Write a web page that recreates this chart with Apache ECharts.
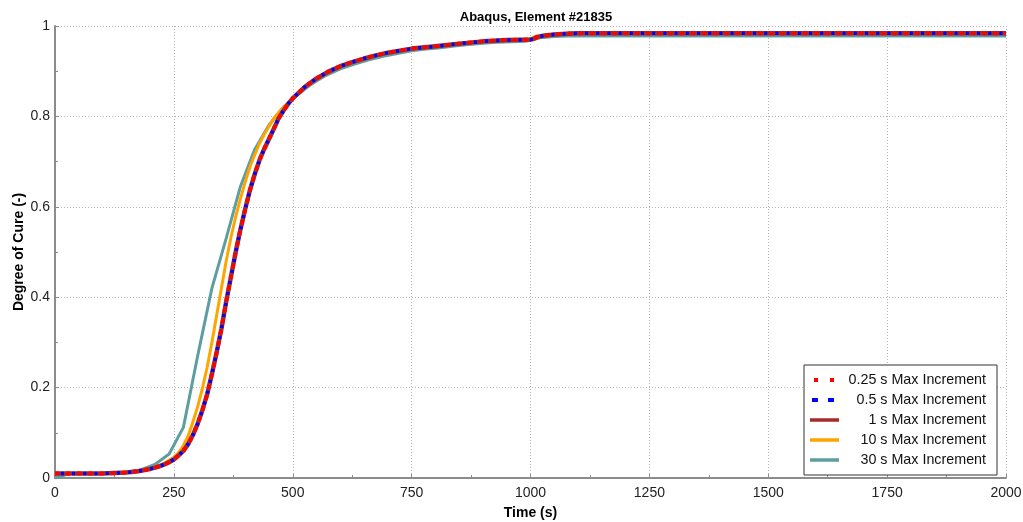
<!DOCTYPE html>
<html>
<head>
<meta charset="utf-8">
<script src="https://cdn.jsdelivr.net/npm/echarts@6/dist/echarts.min.js"></script>
<style>
  html, body { margin: 0; padding: 0; background: #fff; }
  #chart { width: 1023px; height: 522px; }
</style>
</head>
<body>
<div id="chart"></div>
<script>
// Degree of cure vs. time for an Abaqus element at different max time increments.
const seriesNames = [
  '0.25 s Max Increment',
  '0.5 s Max Increment',
  '1 s Max Increment',
  '10 s Max Increment',
  '30 s Max Increment'
];

// Fine-increment runs (0.25 s, 0.5 s, 1 s) overlap each other
const timeFine = [0, 50, 100, 150, 175, 200, 210, 220, 230, 240, 250, 260, 270, 280, 290,
  300, 310, 320, 330, 340, 350, 360, 370, 380, 390, 400, 410, 420, 430, 440, 450, 460, 470,
  480, 490, 500, 525, 550, 575, 600, 625, 650, 675, 700, 750, 800, 850, 900, 950, 1000,
  1005, 1015, 1030, 1050, 1075, 1100, 1250, 1500, 1750, 2000];
const cure025 = [0.010, 0.010, 0.010, 0.012, 0.015, 0.020, 0.023, 0.026, 0.030, 0.035, 0.041,
  0.050, 0.060, 0.075, 0.095, 0.120, 0.150, 0.185, 0.230, 0.278, 0.330, 0.390, 0.445, 0.500,
  0.550, 0.595, 0.637, 0.672, 0.703, 0.728, 0.750, 0.772, 0.795, 0.812, 0.827, 0.840, 0.865,
  0.884, 0.899, 0.911, 0.920, 0.928, 0.935, 0.941, 0.950, 0.955, 0.961, 0.966, 0.969, 0.970,
  0.971, 0.976, 0.979, 0.981, 0.983, 0.984, 0.984, 0.984, 0.984, 0.984];
const cure05 = cure025.slice();
const cure1 = cure025.slice();

// 10 s increment run
const time10 = [0, 100, 150, 200, 225, 250, 260, 270, 280, 290, 300, 310, 320, 330, 340, 350,
  360, 370, 380, 390, 400, 410, 420, 430, 440, 450, 460, 470, 480, 490, 500, 530, 570, 610,
  650, 700, 750, 800, 850, 900, 950, 1000, 1010, 1030, 1050, 1080, 1250, 1500, 1750, 2000];
const cure10 = [0.010, 0.010, 0.012, 0.021, 0.030, 0.046, 0.056, 0.072, 0.093, 0.124, 0.158,
  0.198, 0.245, 0.300, 0.360, 0.420, 0.480, 0.532, 0.578, 0.618, 0.655, 0.688, 0.715, 0.740,
  0.760, 0.778, 0.795, 0.808, 0.820, 0.830, 0.840, 0.869, 0.897, 0.915, 0.928, 0.941, 0.950,
  0.955, 0.961, 0.966, 0.969, 0.971, 0.977, 0.980, 0.982, 0.984, 0.984, 0.984, 0.984, 0.984];

// 30 s increment run
const time30 = [0, 30, 60, 90, 120, 150, 180, 210, 240, 270, 300, 330, 360, 390, 420, 450,
  480, 510, 540, 570, 600, 630, 660, 690, 720, 750, 780, 810, 840, 870, 900, 930, 960, 990,
  1020, 1050, 1080, 1250, 1500, 1750, 2000];
const cure30 = [0.000, 0.010, 0.010, 0.010, 0.011, 0.013, 0.018, 0.030, 0.053, 0.112, 0.270,
  0.420, 0.530, 0.645, 0.727, 0.781, 0.820, 0.848, 0.872, 0.891, 0.905, 0.916, 0.925, 0.933,
  0.939, 0.945, 0.949, 0.952, 0.956, 0.959, 0.962, 0.964, 0.965, 0.966, 0.974, 0.977, 0.978,
  0.978, 0.978, 0.978, 0.978];

const xTicks = [0, 250, 500, 750, 1000, 1250, 1500, 1750, 2000];
const yTicks = [0, 0.2, 0.4, 0.6, 0.8, 1];

function pairs(xs, ys) { return xs.map((x, i) => [x, ys[i]]); }

const FONT = '"Liberation Sans", Arial, sans-serif';

const chart = echarts.init(document.getElementById('chart'), null, { renderer: 'canvas' });

function lineSeries(name, xs, ys, color, width, type, offset, z) {
  return {
    name: name,
    type: 'line',
    data: pairs(xs, ys),
    showSymbol: false,
    symbol: 'none',
    smooth: false,
    z: z,
    lineStyle: { color: color, width: width, type: type, dashOffset: offset || 0, cap: 'butt', join: 'round' },
    itemStyle: { color: color },
    emphasis: { disabled: true },
    animation: false
  };
}

const axisGrey = '#8c8c8c';
const gridLine = { show: true, lineStyle: { color: '#b4b4b4', type: [1, 2], width: 1 } };

// Legend keys: short dotted / dashed swatches and thick solid lines
const legendKeys = [
  { name: seriesNames[0], lineStyle: { color: '#ff0000', width: 4, type: [4, 12], dashOffset: -4 } },
  { name: seriesNames[1], lineStyle: { color: '#0000ff', width: 4, type: [6, 10], dashOffset: -2 } },
  { name: seriesNames[2], lineStyle: { color: '#a52a2a', width: 3.5, type: 'solid' } },
  { name: seriesNames[3], lineStyle: { color: '#ffa500', width: 3.5, type: 'solid' } },
  { name: seriesNames[4], lineStyle: { color: '#5f9ea0', width: 3.5, type: 'solid' } }
];

const option = {
  animation: false,
  backgroundColor: '#fff',
  title: {
    text: 'Abaqus, Element #21835',
    left: 531,
    top: 6,
    textAlign: 'center',
    textStyle: { fontFamily: FONT, fontSize: 13, fontWeight: 'bold', color: '#000' }
  },
  grid: { left: 55, right: 17, top: 26, bottom: 44, containLabel: false, outerBoundsMode: 'none' },
  xAxis: {
    type: 'value',
    min: 0, max: 2000, interval: 250,
    name: 'Time (s)',
    nameLocation: 'middle',
    nameGap: 28,
    nameMoveOverlap: false,
    nameTextStyle: { fontFamily: FONT, fontSize: 14, fontWeight: 'bold', color: '#000' },
    axisLine: { show: true, onZero: false, lineStyle: { color: axisGrey, width: 2 } },
    axisTick: { show: true, inside: true, length: 4, lineStyle: { color: axisGrey } },
    minorTick: { show: true, splitNumber: 2, length: 3, lineStyle: { color: axisGrey } },
    axisLabel: {
      fontFamily: FONT, fontSize: 14, color: '#222', margin: 8,
      formatter: v => String(v)
    },
    splitLine: gridLine
  },
  yAxis: {
    type: 'value',
    min: 0, max: 1, interval: 0.2,
    name: 'Degree of Cure (-)',
    nameLocation: 'middle',
    nameGap: 29,
    nameMoveOverlap: false,
    nameTextStyle: { fontFamily: FONT, fontSize: 14, fontWeight: 'bold', color: '#000' },
    axisLine: { show: true, onZero: false, lineStyle: { color: axisGrey, width: 2 } },
    axisTick: { show: true, inside: true, length: 4, lineStyle: { color: axisGrey } },
    minorTick: { show: true, splitNumber: 2, length: 3, lineStyle: { color: axisGrey } },
    axisLabel: {
      fontFamily: FONT, fontSize: 14, color: '#222', margin: 5,
      formatter: v => {
        const r = Math.round(v * 10) / 10;
        return yTicks.indexOf(r) >= 0 ? String(r) : '';
      }
    },
    splitLine: gridLine
  },
  legend: {
    orient: 'vertical',
    left: 804,
    top: 365,
    data: legendKeys,
    backgroundColor: '#fff',
    borderColor: '#333',
    borderWidth: 1,
    borderRadius: 0,
    padding: [8, 11, 8, 4],
    itemGap: 6,
    itemWidth: 29,
    itemHeight: 15,
    itemTextGap: 2,
    selectedMode: false,
    itemStyle: { opacity: 0 },
    formatter: name => '{t|' + name + '}',
    textStyle: {
      fontFamily: FONT, fontSize: 14.3, color: '#111',
      rich: { t: { width: 142, align: 'right', fontFamily: FONT, fontSize: 14.3, color: '#111' } }
    }
  },
  series: [
    lineSeries(seriesNames[0], timeFine, cure025, '#ff0000', 4, [3.8, 7.4], 0, 6),
    lineSeries(seriesNames[1], timeFine, cure05, '#0000ff', 3.5, [3, 8.2], 5.3, 5),
    lineSeries(seriesNames[2], timeFine, cure1, '#a52a2a', 4.5, 'solid', 0, 4),
    lineSeries(seriesNames[3], time10, cure10, '#ffa500', 3, 'solid', 0, 3),
    lineSeries(seriesNames[4], time30, cure30, '#5f9ea0', 3, 'solid', 0, 2)
  ]
};

chart.setOption(option);
</script>
</body>
</html>
